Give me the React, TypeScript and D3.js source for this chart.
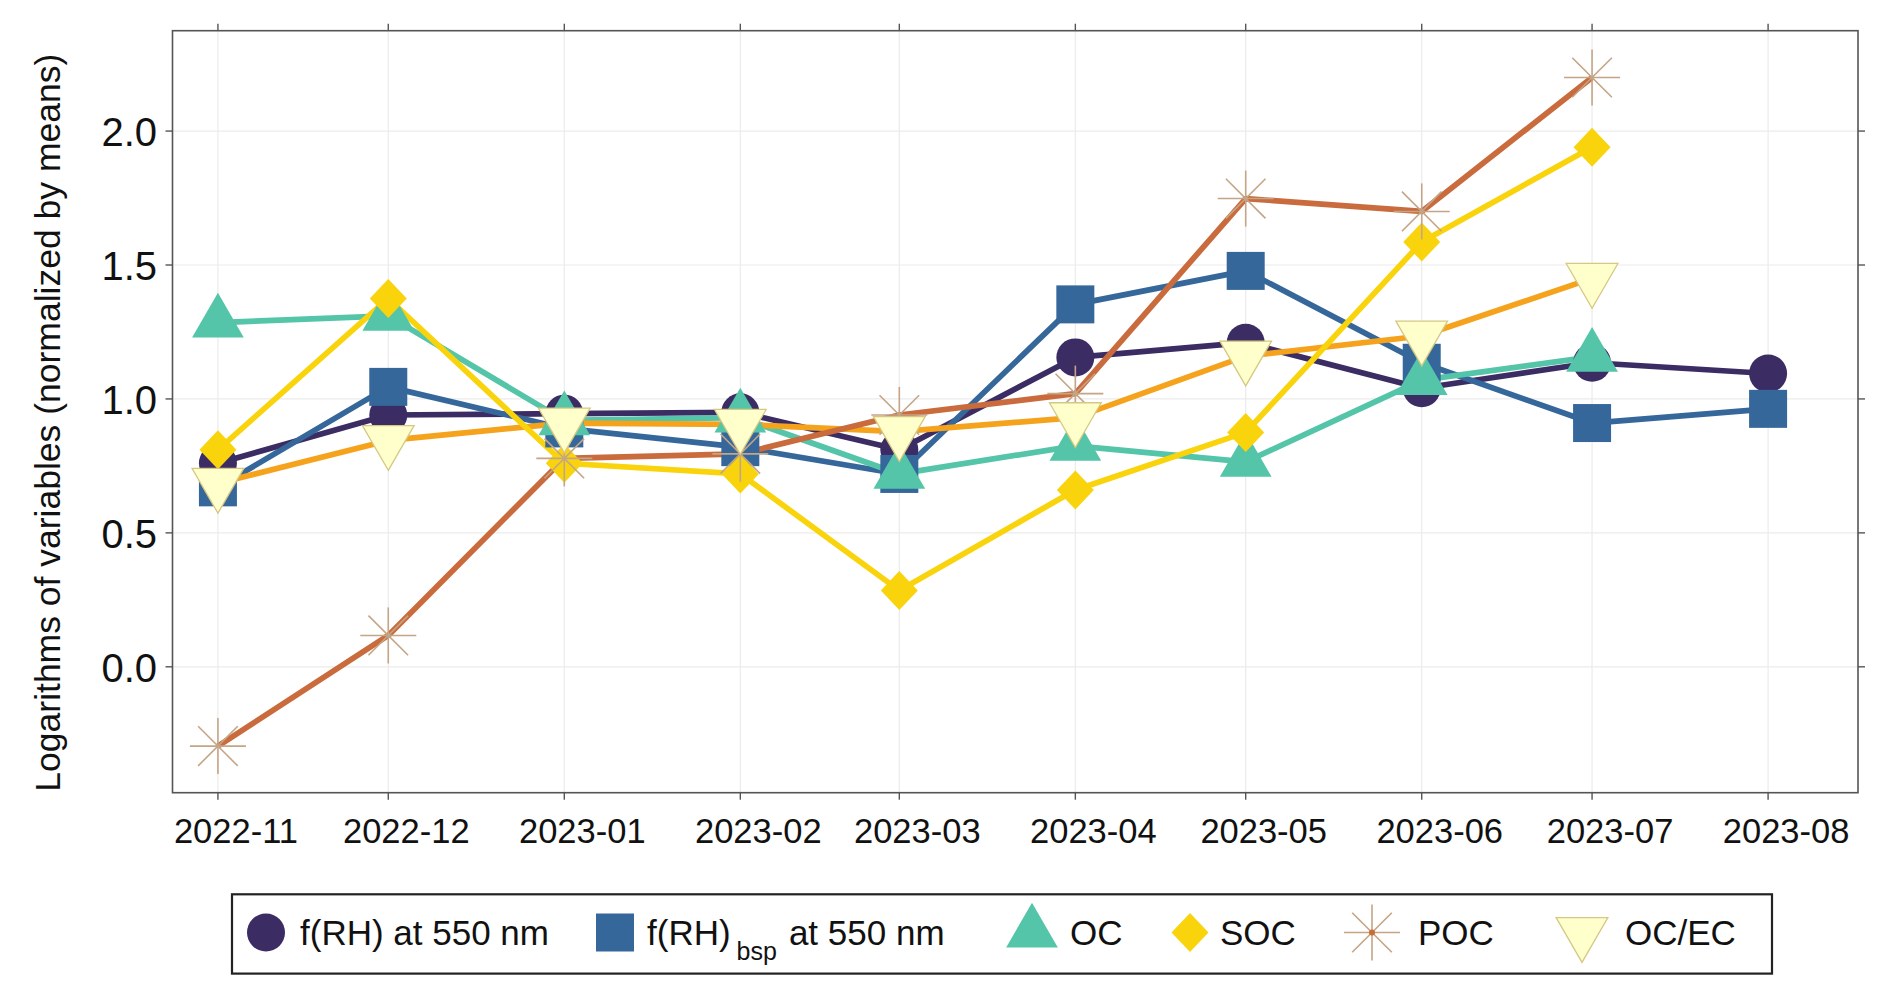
import * as d3 from "d3";

const MONTHS = [
  "2022-11", "2022-12", "2023-01", "2023-02", "2023-03",
  "2023-04", "2023-05", "2023-06", "2023-07", "2023-08",
];

const FRH_550 = [0.76, 0.94, 0.945, 0.95, 0.81, 1.155, 1.21, 1.04, 1.135, 1.095];
const FRH_BSP = [0.67, 1.045, 0.89, 0.82, 0.72, 1.353, 1.478, 1.135, 0.91, 0.963];
const OC = [1.285, 1.31, 0.92, 0.93, 0.72, 0.825, 0.765, 1.07, 1.157, null];
const SOC = [0.81, 1.375, 0.76, 0.72, 0.285, 0.66, 0.875, 1.586, 1.94, null];
const POC = [-0.296, 0.117, 0.778, 0.795, 0.94, 1.02, 1.748, 1.7, 2.2, null];
const OC_EC = [0.685, 0.845, 0.91, 0.905, 0.878, 0.93, 1.16, 1.235, 1.45, null];

const Y_TICKS = [0, 0.5, 1, 1.5, 2];

type Shape = "circle" | "square" | "triUp" | "diamond" | "star" | "triDown";

interface Series {
  key: string;
  values: (number | null)[];
  line: string;
  fill: string;
  stroke?: string;
  shape: Shape;
}

const SERIES: Series[] = [
  { key: "fRH", values: FRH_550, line: "#3B2C63", fill: "#3B2C63", shape: "circle" },
  { key: "fRHbsp", values: FRH_BSP, line: "#36679B", fill: "#36679B", shape: "square" },
  { key: "OC", values: OC, line: "#54C5A8", fill: "#54C5A8", shape: "triUp" },
  { key: "SOC", values: SOC, line: "#F9D40C", fill: "#F9D40C", shape: "diamond" },
  { key: "POC", values: POC, line: "#C96B3C", fill: "#C4A585", shape: "star" },
  { key: "OCEC", values: OC_EC, line: "#F5A31C", fill: "#FFFFCC", stroke: "#D6C882", shape: "triDown" },
];

// line stacking seen in the picture: yellow over orange, brown over blue
const LINE_ORDER = ["fRH", "fRHbsp", "OC", "OCEC", "POC", "SOC"];

const W = 1892;
const H = 1004;
const FONT = "'Liberation Sans', Arial, sans-serif";

const parseMonth = d3.utcParse("%Y-%m");
const dates = MONTHS.map((m) => parseMonth(m) as Date);

const x = d3
  .scaleUtc()
  .domain([new Date(Date.UTC(2022, 9, 24)), new Date(Date.UTC(2023, 7, 16, 20))])
  .range([172.5, 1858]);
const y = d3.scaleLinear().domain([-0.47, 2.3747]).range([792.7, 30.7]);

const [left, right] = x.range();
const [bottom, top] = y.range();

function Marker({ shape, cx, cy, fill, stroke, dot }: {
  shape: Shape; cx: number; cy: number; fill: string; stroke?: string; dot?: string;
}) {
  const s = 19.2;
  if (shape === "circle") return <circle cx={cx} cy={cy} r={19} fill={fill} />;
  if (shape === "square")
    return <rect x={cx - 19} y={cy - 19} width={38} height={38} fill={fill} />;
  if (shape === "diamond") {
    const p = [[cx, cy - 19.5], [cx + 18.5, cy], [cx, cy + 19.5], [cx - 18.5, cy]];
    return <polygon points={p.map((q) => q.join(",")).join(" ")} fill={fill} />;
  }
  if (shape === "triUp" || shape === "triDown") {
    const r = 1.5551 * s, xc = 1.3468 * s, yc = 0.7776 * s;
    const d = shape === "triUp" ? 1 : -1;
    const p = [[cx, cy - d * r], [cx + xc, cy + d * yc], [cx - xc, cy + d * yc]];
    return (
      <polygon
        points={p.map((q) => q.join(",")).join(" ")}
        fill={fill}
        stroke={stroke ?? "none"}
        strokeWidth={1.3}
      />
    );
  }
  const L = 28;
  const k = L / Math.SQRT2;
  return (
    <g stroke={fill} strokeWidth={1.6}>
      <line x1={cx - L} y1={cy} x2={cx + L} y2={cy} />
      <line x1={cx} y1={cy - L} x2={cx} y2={cy + L} />
      <line x1={cx - k} y1={cy - k} x2={cx + k} y2={cy + k} />
      <line x1={cx - k} y1={cy + k} x2={cx + k} y2={cy - k} />
      {dot && <circle cx={cx} cy={cy} r={3} fill={dot} stroke="none" />}
    </g>
  );
}

// legend layout (key centre, label start)
const LEGEND = [
  { key: "fRH", kx: 266, tx: 300 },
  { key: "fRHbsp", kx: 615, tx: 647 },
  { key: "OC", kx: 1032, tx: 1070, label: "OC" },
  { key: "SOC", kx: 1190, tx: 1220, label: "SOC" },
  { key: "POC", kx: 1372, tx: 1418, label: "POC" },
  { key: "OCEC", kx: 1582, tx: 1625, label: "OC/EC" },
];

export default function App() {
  const line = d3
    .line<number | null>()
    .defined((v) => v != null)
    .x((_, i) => x(dates[i]))
    .y((v) => y(v as number));

  const byKey = (k: string) => SERIES.find((s) => s.key === k)!;

  return (
    <svg
      width={W}
      height={H}
      style={{ position: "absolute", left: 0, top: 0, background: "#fff" }}
      fontFamily={FONT}
    >
      <rect x={0} y={0} width={W} height={H} fill="#fff" />

      {/* grid */}
      {Y_TICKS.map((t) => (
        <line key={"gy" + t} x1={left} x2={right} y1={y(t)} y2={y(t)} stroke="#EBEBEB" strokeWidth={1.2} />
      ))}
      {dates.map((d, i) => (
        <line key={"gx" + i} x1={x(d)} x2={x(d)} y1={top} y2={bottom} stroke="#EBEBEB" strokeWidth={1.2} />
      ))}

      {/* lines */}
      {LINE_ORDER.map((k) => {
        const s = byKey(k);
        return (
          <path
            key={"l" + k}
            d={line(s.values) ?? ""}
            fill="none"
            stroke={s.line}
            strokeWidth={5.7}
            strokeLinejoin="round"
          />
        );
      })}

      {/* points */}
      {SERIES.map((s) =>
        s.values.map((v, i) =>
          v == null ? null : (
            <Marker
              key={s.key + i}
              shape={s.shape}
              cx={x(dates[i])}
              cy={y(v)}
              fill={s.fill}
              stroke={s.stroke}
            />
          )
        )
      )}

      {/* panel border and ticks */}
      <rect x={left} y={top} width={right - left} height={bottom - top} fill="none" stroke="#555" strokeWidth={1.6} />
      {dates.map((d, i) => (
        <g key={"tx" + i} stroke="#555" strokeWidth={1.4}>
          <line x1={x(d)} x2={x(d)} y1={bottom} y2={bottom + 7} />
          <line x1={x(d)} x2={x(d)} y1={top} y2={top - 7} />
        </g>
      ))}
      {Y_TICKS.map((t) => (
        <g key={"ty" + t} stroke="#555" strokeWidth={1.4}>
          <line x1={left - 7} x2={left} y1={y(t)} y2={y(t)} />
          <line x1={right} x2={right + 7} y1={y(t)} y2={y(t)} />
        </g>
      ))}

      {/* tick labels */}
      {dates.map((d, i) => (
        <text key={"lx" + i} x={x(d) + 18} y={843} fontSize={34.5} textAnchor="middle" fill="#111">
          {MONTHS[i]}
        </text>
      ))}
      {Y_TICKS.map((t) => (
        <text key={"ly" + t} x={157} y={y(t) + 1} dy="0.36em" fontSize={40} textAnchor="end" fill="#111">
          {d3.format(".1f")(t)}
        </text>
      ))}

      <text
        transform={`translate(60,${(top + bottom) / 2 + 11}) rotate(-90)`}
        fontSize={35.5}
        textAnchor="middle"
        fill="#111"
      >
        Logarithms of variables (normalized by means)
      </text>

      {/* legend */}
      <rect x={232} y={894.3} width={1540} height={79.3} fill="#fff" stroke="#222" strokeWidth={2.2} />
      {LEGEND.map((it) => {
        const s = byKey(it.key);
        return (
          <g key={"lg" + it.key}>
            <Marker
              shape={s.shape}
              cx={it.kx}
              cy={932.5}
              fill={s.fill}
              stroke={s.stroke}
              dot={s.shape === "star" ? s.line : undefined}
            />
            {it.key === "fRH" && (
              <text x={it.tx} y={945} fontSize={35} fill="#111">f(RH) at 550 nm</text>
            )}
            {it.key === "fRHbsp" && (
              <text x={it.tx} y={945} fontSize={35} fill="#111">
                f(RH)
                <tspan dx={6} dy={15} fontSize={25}>bsp</tspan>
                <tspan dx={12} dy={-15}>at 550 nm</tspan>
              </text>
            )}
            {it.label && (
              <text x={it.tx} y={945} fontSize={35} fill="#111">{it.label}</text>
            )}
          </g>
        );
      })}
    </svg>
  );
}
